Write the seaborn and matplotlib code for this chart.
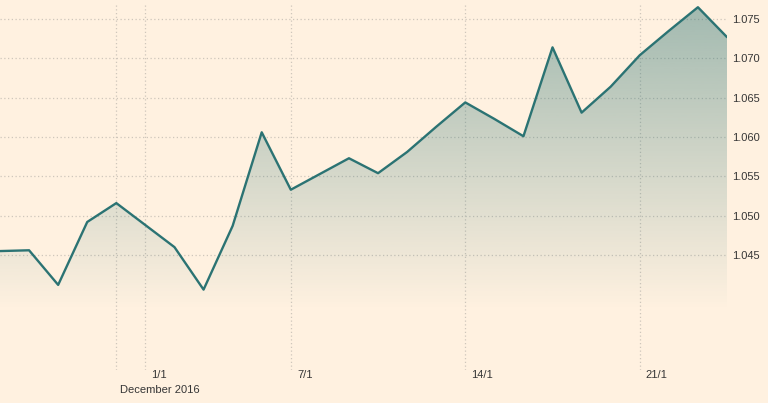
import numpy as np
import pandas as pd
import matplotlib
matplotlib.use("Agg")
import matplotlib.pyplot as plt
from matplotlib.colors import to_rgb
import seaborn as sns

# trading-day index -> EUR/USD-like rate
values = [1.0455, 1.0456, 1.0412, 1.0492, 1.0516, 1.0488, 1.0460, 1.0406,
          1.0487, 1.0606, 1.0533, 1.0553, 1.0573, 1.0554, 1.0581, 1.0613,
          1.0644, 1.0623, 1.0601, 1.0714, 1.0631, 1.0664, 1.0704, 1.0735,
          1.0765, 1.0727]
yticks = [1.045, 1.050, 1.055, 1.060, 1.065, 1.070, 1.075]
xgrid = [4, 5, 10, 16, 22]
xlabels = {5: "1/1", 10: "7/1", 16: "14/1", 22: "21/1"}
month_pos = 4
month_label = "December 2016"

bg = "#fff1e0"
line_col = "#2b7373"
grid_col = "#cfc6bb"
text_col = "#363636"

df = pd.DataFrame({"i": np.arange(len(values)), "rate": values})

sns.set_style("white")
plt.rcParams["font.family"] = ["Liberation Sans", "DejaVu Sans"]

fig = plt.figure(figsize=(7.68, 4.03), dpi=100, facecolor=bg)
ax = fig.add_axes([0, 1 - 370 / 403, 727 / 768, 370 / 403])
ax.set_facecolor(bg)

ylo, yhi = 1.03038, 1.07742
ax.set_xlim(0, len(values) - 1)
ax.set_ylim(ylo, yhi)

# gradient fill under the line
poly = ax.fill_between(df["i"], df["rate"], ylo, color="none", lw=0)
r, g, b = to_rgb(line_col)
n = 256
alpha = np.clip(np.linspace(0.45, 0.45 - 0.45 * 370 / 310, n), 0, None)
grad = np.zeros((n, 1, 4))
grad[:, 0, 0], grad[:, 0, 1], grad[:, 0, 2] = r, g, b
grad[:, 0, 3] = alpha
im = ax.imshow(grad, extent=[0, len(values) - 1, ylo, yhi], aspect="auto",
               origin="upper", zorder=1)
path = poly.get_paths()[0]
im.set_clip_path(path, transform=ax.transData)

# grid
for v in yticks:
    ax.axhline(v, color=grid_col, lw=0.9, ls=(0, (1, 2)), zorder=0.5)
for x in xgrid:
    ax.axvline(x, ymax=1 - 5 / 370, color=grid_col, lw=0.9, ls=(0, (1, 2)), zorder=0.5)

sns.lineplot(data=df, x="i", y="rate", color=line_col, lw=1.7, ax=ax, zorder=3)

for s in ax.spines.values():
    s.set_visible(False)
ax.set_xticks([])
ax.set_xlabel("")
ax.set_ylabel("")
ax.yaxis.tick_right()
ax.set_yticks(yticks)
ax.set_yticklabels([f"{v:.3f}" for v in yticks])
ax.tick_params(axis="y", length=0, pad=4, labelsize=8, labelcolor=text_col)

tr = ax.get_xaxis_transform()
for x, lab in xlabels.items():
    ax.text(x + 0.21, -5 / 370, lab, transform=tr, ha="left", va="center",
            fontsize=8, color=text_col)
ax.text(month_pos + 0.14, -20 / 370, month_label, transform=tr, ha="left",
        va="center", fontsize=8, color=text_col)

fig.savefig("out.png", dpi=100, facecolor=bg)
